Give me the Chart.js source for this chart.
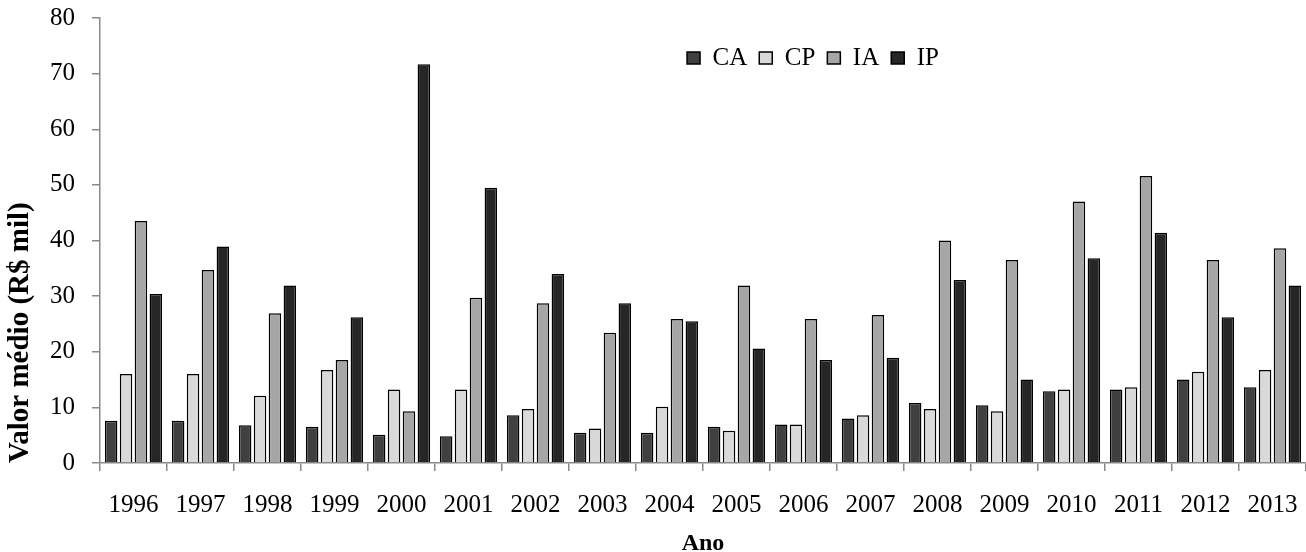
<!DOCTYPE html>
<html>
<head>
<meta charset="utf-8">
<script src="https://cdn.jsdelivr.net/npm/chart.js@4.4.1/dist/chart.umd.min.js"></script>
<style>
  html, body { margin: 0; padding: 0; background: #ffffff; }
  #wrap { width: 1306px; height: 552px; position: relative; }
</style>
</head>
<body>
<div id="wrap"><canvas id="c" width="1306" height="552"></canvas></div>
<script>
const years = ['1996','1997','1998','1999','2000','2001','2002','2003','2004','2005','2006','2007','2008','2009','2010','2011','2012','2013'];
const CA = [7.6, 7.6, 6.8, 6.5, 5.1, 4.8, 8.6, 5.45, 5.45, 6.5, 6.9, 8.0, 10.8, 10.4, 12.9, 13.2, 15.0, 13.6];
const CP = [16.0, 16.0, 12.1, 16.7, 13.2, 13.2, 9.7, 6.2, 10.1, 5.8, 6.9, 8.6, 9.7, 9.3, 13.2, 13.6, 16.4, 16.7];
const IA = [43.5, 34.7, 26.9, 18.5, 9.3, 29.7, 28.7, 23.4, 25.9, 31.9, 25.9, 26.6, 40.0, 36.5, 47.0, 51.6, 36.5, 38.6];
const IP = [30.4, 38.9, 31.9, 26.2, 71.7, 49.5, 34.0, 28.7, 25.5, 20.6, 18.5, 18.9, 32.9, 15.0, 36.8, 41.4, 26.2, 31.9];
const seriesNames = ['CA', 'CP', 'IA', 'IP'];
const yTicks = [0, 10, 20, 30, 40, 50, 60, 70, 80];

const FONT = "'Liberation Serif', 'Times New Roman', serif";
const AXIS_GREY = '#8a8a8a';

// keep the legend out of the layout and place it inside the plot area
const legendMover = {
  id: 'legendMover',
  beforeLayout(chart) {
    const l = chart.legend;
    if (l && !l._patched) {
      const orig = l.fit;
      l.fit = function () { orig.call(this); this._realH = this.height; this.height = 0; };
      l._patched = true;
    }
  },
  afterLayout(chart) {
    const l = chart.legend;
    if (!l) return;
    const cx = 813, cy = 57;
    const w = l.width, h = l._realH || 0;
    l.left = cx - w / 2; l.right = l.left + w;
    l.top = cy - h / 2; l.bottom = l.top + h; l.height = h;
  }
};

function noPad(scale) {
  scale.paddingLeft = 0; scale.paddingRight = 0;
  scale.paddingTop = 0; scale.paddingBottom = 0;
}

const colors = ['#404040', '#d9d9d9', '#a6a6a6', '#262626'];
const seriesData = [CA, CP, IA, IP];

new Chart(document.getElementById('c'), {
  type: 'bar',
  data: {
    labels: years,
    datasets: seriesNames.map((n, i) => ({
      label: n,
      data: seriesData[i],
      backgroundColor: colors[i],
      borderColor: '#000000',
      borderWidth: 1.5,
      categoryPercentage: 0.89,
      barPercentage: 0.84
    }))
  },
  options: {
    responsive: false,
    animation: false,
    devicePixelRatio: 1,
    layout: { autoPadding: false, padding: { top: 18, right: 0, bottom: 0, left: 0 } },
    plugins: {
      tooltip: { enabled: false },
      legend: {
        display: true,
        position: 'top',
        align: 'center',
        labels: {
          color: '#000',
          font: { family: FONT, size: 25 },
          boxWidth: 13,
          boxHeight: 12,
          padding: 12
        }
      }
    },
    scales: {
      x: {
        grid: {
          display: true,
          offset: true,
          drawOnChartArea: false,
          drawTicks: true,
          tickLength: 8,
          color: AXIS_GREY,
          lineWidth: 1.5
        },
        border: { display: true, color: AXIS_GREY, width: 1.5 },
        ticks: {
          color: '#000',
          font: { family: FONT, size: 25 },
          padding: 19,
          maxRotation: 0,
          autoSkip: false
        },
        title: {
          display: true,
          text: 'Ano',
          color: '#000',
          font: { family: FONT, size: 24, weight: 'bold', lineHeight: 1 },
          padding: { top: 0, bottom: -4 }
        },
        afterFit(scale) { scale.height = 89; noPad(scale); }
      },
      y: {
        min: 0,
        max: 80,
        afterBuildTicks(scale) { scale.ticks = yTicks.map(v => ({ value: v })); },
        grid: {
          display: true,
          drawOnChartArea: false,
          drawTicks: true,
          tickLength: 8,
          color: AXIS_GREY,
          lineWidth: 1.5
        },
        border: { display: true, color: AXIS_GREY, width: 1.5 },
        ticks: {
          color: '#000',
          font: { family: FONT, size: 25 },
          padding: 17
        },
        title: {
          display: true,
          text: 'Valor médio (R$ mil)',
          align: 'start',
          color: '#000',
          font: { family: FONT, size: 29, weight: 'bold' },
          padding: { top: 3, bottom: 0 }
        },
        afterFit(scale) { scale.width = 100; noPad(scale); }
      }
    }
  },
  plugins: [legendMover]
});
</script>
</body>
</html>
